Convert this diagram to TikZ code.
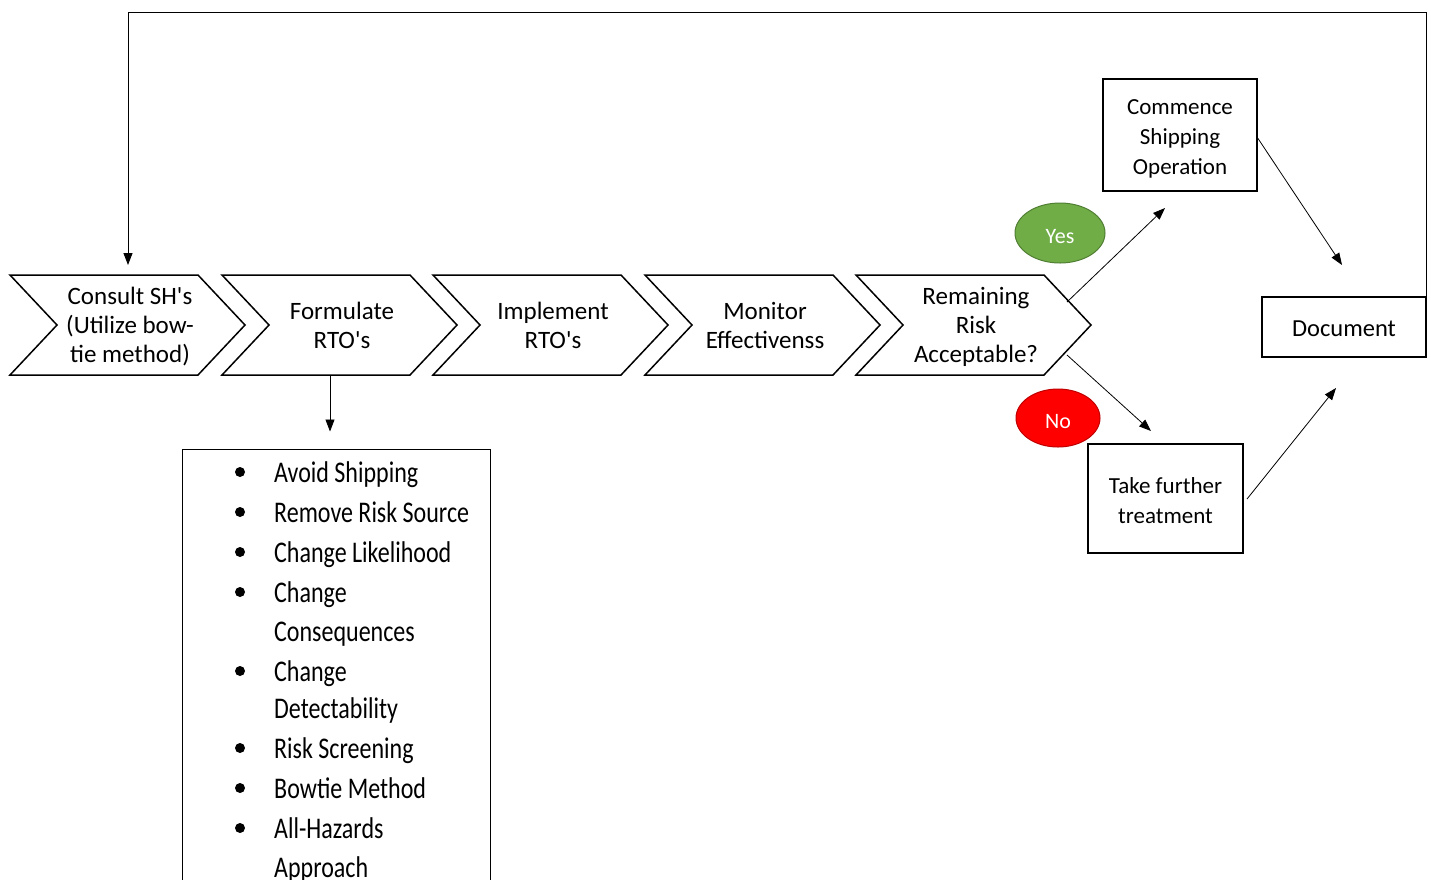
\documentclass[tikz,border=0pt]{standalone}
\usepackage{fontspec}
\setmainfont{Carlito}
\usetikzlibrary{arrows.meta,shapes.geometric}
\definecolor{yesgreen}{HTML}{70AD47}
\definecolor{yesedge}{HTML}{507E32}
\definecolor{nored}{HTML}{FF0000}
\definecolor{noedge}{HTML}{C00000}

% straight apostrophe
\newcommand{\apos}{\textquotesingle}
% chevron: name, left x, text baseline offset, text
\newcommand{\chevshape}[4]{%
  \draw[chevline] (#2,275) -- (#2+188,275) -- (#2+235,325) -- (#2+188,375)
    -- (#2,375) -- (#2+47,325) -- cycle;
  \node[chevtext] (#1) at (#2+120,#3) {#4};
}
% one line of the option list, stretched vertically
\newcommand{\listline}[3]{%
  \node[listtext] (#1) at (274,#2) {\scalebox{1}[1.25]{#3}};
}
\newcommand{\listbullet}[2]{%
  \node[bullet] (#1) at (240,#2) {};
}

\begin{document}
\begin{tikzpicture}[x=1pt,y=-1pt,
  chevline/.style={draw=black, line width=1.5pt, line join=miter},
  chevtext/.style={align=center, font=\fontsize{25}{29}\selectfont, inner sep=0pt},
  box/.style={draw=black, line width=1.5pt, inner sep=0pt},
  boxtext/.style={align=center, inner sep=0pt, font=\fontsize{23}{30}\selectfont},
  arr/.style={line width=0.8pt, -{Triangle[length=12pt,width=9pt]}},
  listtext/.style={anchor=base west, inner sep=0pt, font=\fontsize{24}{24}\selectfont},
  bullet/.style={circle, fill=black, inner sep=0pt, minimum size=10pt},
  answer/.style={ellipse, line width=1pt, inner sep=0pt, text=white,
    text height=20pt, text depth=0pt, font=\fontsize{22}{22}\selectfont}
]
\useasboundingbox (0,0) rectangle (1431,879);
\clip (0,0) rectangle (1431,879);

% process chevrons
\chevshape{c1}{10}{327}{Consult SH\apos s\\(Utilize bow-\\tie method)}
\chevshape{c2}{222}{325}{Formulate\\RTO\apos s}
\chevshape{c3}{433}{325}{Implement\\RTO\apos s}
\chevshape{c4}{645}{325}{Monitor\\Effectivenss}
\chevshape{c5}{856}{327}{Remaining\\Risk\\Acceptable?}

% outcome boxes
\node[box, minimum width=154pt, minimum height=112pt] (comm) at (1180,135) {};
\node[boxtext] (commtext) at (1180,139) {Commence\\Shipping\\Operation};
\node[box, minimum width=155pt, minimum height=109pt] (take) at (1165.5,498.5) {};
\node[boxtext] (taketext) at (1165.5,501) {Take further\\treatment};
\node[box, minimum width=164pt, minimum height=60pt] (doc) at (1344,327) {};
\node[boxtext, font=\fontsize{24.5}{30}\selectfont] (doctext) at (1344,329) {Document};

% decision labels
\node[answer, fill=yesgreen, draw=yesedge, minimum width=90pt, minimum height=60pt]
  (yes) at (1060,233) {Yes};
\node[answer, fill=nored, draw=noedge, minimum width=84pt, minimum height=58pt]
  (no) at (1058,418) {No};

% treatment options list
\node[draw=black, line width=1pt, minimum width=308pt, minimum height=460pt,
  inner sep=0pt] (list) at (336,679) {};
\listbullet{b1}{472}\listline{l1}{482}{Avoid Shipping}
\listbullet{b2}{512}\listline{l2}{522}{Remove Risk Source}
\listbullet{b3}{552}\listline{l3}{562}{Change Likelihood}
\listbullet{b4}{592}\listline{l4}{602}{Change}
\listline{l5}{641}{Consequences}
\listbullet{b6}{671}\listline{l6}{681}{Change}
\listline{l7}{718}{Detectability}
\listbullet{b8}{748}\listline{l8}{758}{Risk Screening}
\listbullet{b9}{788}\listline{l9}{798}{Bowtie Method}
\listbullet{b10}{828}\listline{l10}{838}{All-Hazards}
\listline{l11}{877}{Approach}

% connector end points
\coordinate (fbot) at (330,376);
\coordinate (yesstart) at (1067,302);
\coordinate (yesend) at (1165,208);
\coordinate (nostart) at (1067,355);
\coordinate (noend) at (1151,431);
\coordinate (commout) at (1257,137);
\coordinate (docin1) at (1342,265);
\coordinate (takeout) at (1247,499);
\coordinate (docin2) at (1336,388);
\coordinate (loop) at (128,12);
\coordinate (c1in) at (128,265);

% connectors
\draw[arr] (fbot) -- (fbot |- list.north) [shorten >=17pt];
\draw[arr] (yesstart) -- (yesend);
\draw[arr] (nostart) -- (noend);
\draw[arr] (commout) -- (docin1);
\draw[arr] (takeout) -- (docin2);
\draw[arr, line width=1pt] (doc.north east) |- (loop) -- (c1in);
\end{tikzpicture}
\end{document}
